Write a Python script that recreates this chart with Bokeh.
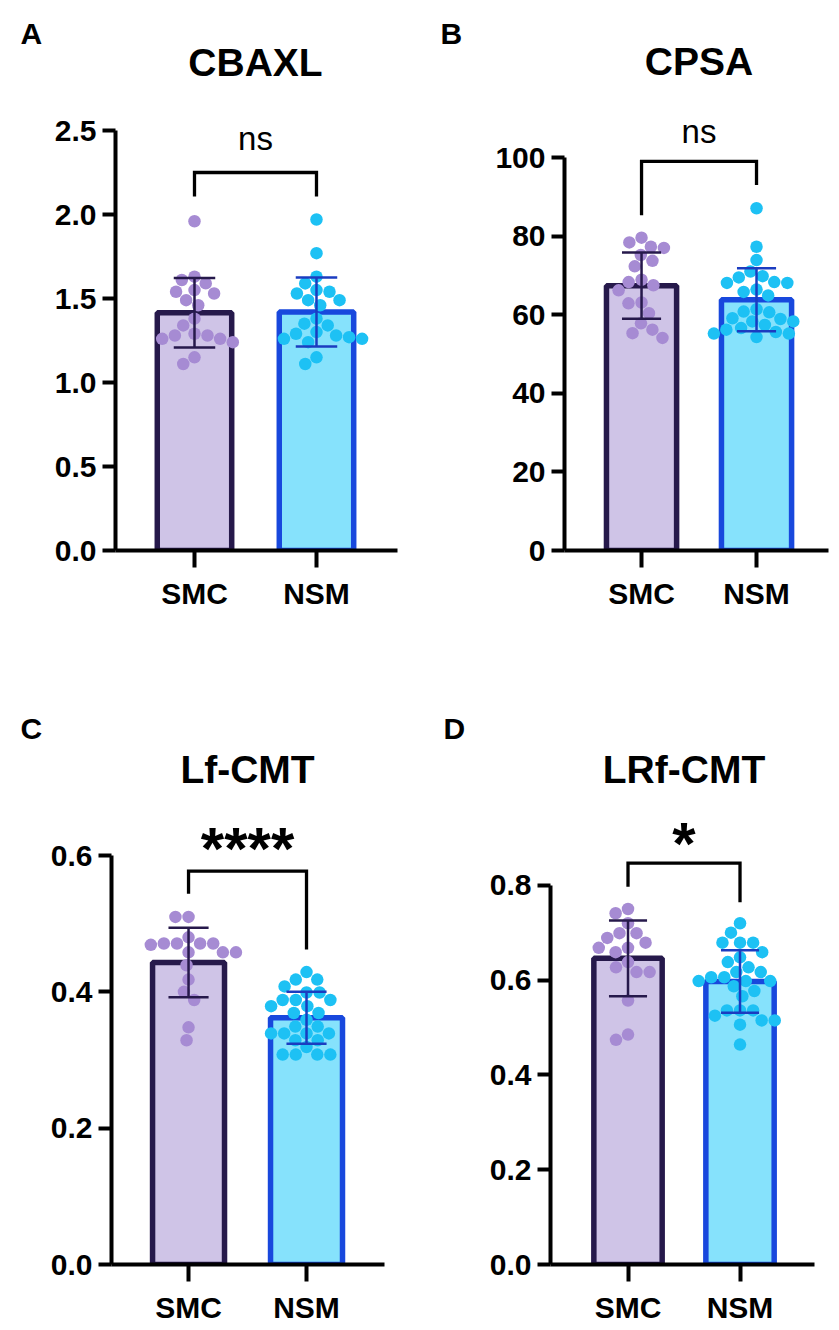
import math
from bokeh.plotting import figure
from bokeh.models import Range1d, FixedTicker, Label, PrintfTickFormatter, Title
from bokeh.layouts import row, column
from bokeh.embed import file_html
from bokeh.resources import INLINE

# ---------------- data ----------------
groups = ["SMC", "NSM"]
titles = ["CBAXL", "CPSA", "Lf-CMT", "LRf-CMT"]
panel_letters = ["A", "B", "C", "D"]
significance = ["ns", "ns", "****", "*"]

cbaxl_smc = [1.96, 1.63, 1.61, 1.59, 1.55, 1.54, 1.53, 1.49, 1.46, 1.38, 1.34,
             1.29, 1.28, 1.28, 1.26, 1.26, 1.24, 1.15, 1.11]
cbaxl_nsm = [1.97, 1.77, 1.63, 1.59, 1.55, 1.54, 1.53, 1.49, 1.49, 1.46, 1.38,
             1.35, 1.34, 1.30, 1.29, 1.27, 1.28, 1.26, 1.26, 1.24, 1.15, 1.11]
cpsa_smc = [79.6, 78.4, 77.0, 77.3, 75.2, 73.7, 72.3, 68.3, 68.9, 67.5, 66.2,
            62.9, 63.1, 60.4, 57.8, 55.3, 56.2, 54.1]
cpsa_nsm = [87.1, 77.3, 73.9, 71.0, 69.5, 69.8, 68.1, 68.3, 68.1, 66.4, 65.8,
            64.9, 61.4, 60.8, 60.6, 59.1, 58.9, 58.3, 57.4, 58.3, 56.2, 56.6,
            55.2, 54.3, 55.2, 55.6]
lfcmt_smc = [0.510, 0.510, 0.480, 0.471, 0.471, 0.471, 0.471, 0.469, 0.458,
             0.458, 0.458, 0.439, 0.418, 0.400, 0.388, 0.348, 0.329]
lfcmt_nsm = [0.429, 0.418, 0.418, 0.408, 0.399, 0.399, 0.388, 0.388, 0.388,
             0.379, 0.379, 0.369, 0.369, 0.359, 0.349, 0.349, 0.339, 0.339,
             0.339, 0.339, 0.329, 0.329, 0.319, 0.308, 0.308, 0.308, 0.308]
lrfcmt_smc = [0.750, 0.741, 0.720, 0.699, 0.699, 0.679, 0.689, 0.668, 0.668,
              0.659, 0.638, 0.627, 0.617, 0.617, 0.557, 0.485, 0.474]
lrfcmt_nsm = [0.720, 0.700, 0.679, 0.679, 0.679, 0.659, 0.648, 0.638, 0.627,
              0.617, 0.617, 0.606, 0.606, 0.598, 0.598, 0.598, 0.587, 0.577,
              0.566, 0.536, 0.536, 0.536, 0.525, 0.515, 0.515, 0.506, 0.464]

cbaxl_mean = [1.415, 1.420]
cbaxl_sd = [0.207, 0.205]
cpsa_mean = [67.4, 63.8]
cpsa_sd = [8.4, 8.0]
lfcmt_mean = [0.443, 0.362]
lfcmt_sd = [0.051, 0.038]
lrfcmt_mean = [0.646, 0.597]
lrfcmt_sd = [0.080, 0.066]

cbaxl_ticks = [0.0, 0.5, 1.0, 1.5, 2.0, 2.5]
cpsa_ticks = [0, 20, 40, 60, 80, 100]
lfcmt_ticks = [0.0, 0.2, 0.4, 0.6]
lrfcmt_ticks = [0.0, 0.2, 0.4, 0.6, 0.8]
tick_formats = ["%.1f", "%d", "%.1f", "%.1f"]

points = [(cbaxl_smc, cbaxl_nsm), (cpsa_smc, cpsa_nsm),
          (lfcmt_smc, lfcmt_nsm), (lrfcmt_smc, lrfcmt_nsm)]
means = [cbaxl_mean, cpsa_mean, lfcmt_mean, lrfcmt_mean]
sds = [cbaxl_sd, cpsa_sd, lfcmt_sd, lrfcmt_sd]
ticks = [cbaxl_ticks, cpsa_ticks, lfcmt_ticks, lrfcmt_ticks]

# ---------------- layout / style ----------------
FONT = "Liberation Sans"
BAR_FILL = ["#CFC4E7", "#86E2FC"]
BAR_LINE = ["#26194B", "#1848DD"]
DOT = ["#A68BD3", "#1DC1F4"]
ERR = ["#26194B", "#1B3CC0"]

geo = [
    dict(w=430, h=680, l=115, r=33, t=46, b=130, x=(0.3525, 2.664), ytop=3.0),
    dict(w=408, h=680, l=134, r=10, t=46, b=121, x=(0.330, 2.626), ytop=128.25),
    dict(w=430, h=648, l=111, r=46, t=70, b=64, x=(0.347, 2.661), ytop=0.7541),
    dict(w=408, h=648, l=120, r=24, t=70, b=64, x=(0.308, 2.665), ytop=1.0844),
]
ann = [
    dict(title=2.907, sig=2.453, sig_size="33px", sig_style="normal", loff=-95, lstand=-7),
    dict(title=124.4, sig=106.5, sig_size="33px", sig_style="normal", loff=-124, lstand=-7),
    dict(title=0.726, sig=0.610, sig_size="60px", sig_style="bold", loff=-91, lstand=11),
    dict(title=1.045, sig=0.888, sig_size="60px", sig_style="bold", loff=-107, lstand=11),
]
brackets = [(2.25, 2.107, 2.107), (99.0, 85.3, 93.0), (0.577, 0.544, 0.462), (0.847, 0.797, 0.764)]

BAR_W = 0.61
CAP_W = 0.34
DOT_D = 12.5


def swarm(vals, ppx, ppy, d):
    ys = [v * ppy for v in vals]
    order = sorted(range(len(vals)), key=lambda i: -ys[i])
    placed = []
    xs = [0.0] * len(vals)
    for i in order:
        y = ys[i]
        cands = [0.0]
        for (px, py) in placed:
            dy = abs(py - y)
            if dy < d:
                dx = math.sqrt(d * d - dy * dy)
                cands += [px - dx, px + dx]
        cands.sort(key=lambda c: (abs(c), c))
        for c in cands:
            if all((c - px) ** 2 + (y - py) ** 2 >= d * d - 1e-6 for px, py in placed):
                xs[i] = c
                break
        placed.append((xs[i], y))
    return [x / ppx for x in xs]


figs = []
for k in range(4):
    g = geo[k]
    fw = g["w"] - g["l"] - g["r"]
    fh = g["h"] - g["t"] - g["b"]
    p = figure(width=g["w"], height=g["h"], x_range=Range1d(*g["x"]),
               y_range=Range1d(0, g["ytop"]), output_backend="svg",
               toolbar_location=None, title=None,
               min_border_left=g["l"], min_border_right=g["r"],
               min_border_top=g["t"], min_border_bottom=g["b"])
    p.outline_line_color = None
    p.xgrid.visible = False
    p.ygrid.visible = False
    p.background_fill_color = "white"
    p.border_fill_color = "white"

    ppx = fw / (g["x"][1] - g["x"][0])
    ppy = fh / g["ytop"]
    xpos = [1, 2]

    p.vbar(x=xpos, top=means[k], width=BAR_W, fill_color=BAR_FILL,
           line_color=BAR_LINE, line_width=5.5)

    for j in range(2):
        offs = swarm(points[k][j], ppx, ppy, DOT_D + 0.6)
        p.scatter(x=[xpos[j] + o for o in offs], y=points[k][j], size=DOT_D,
                  fill_color=DOT[j], line_color=None, marker="circle")

    for j in range(2):
        lo = means[k][j] - sds[k][j]
        hi = means[k][j] + sds[k][j]
        p.segment(x0=[xpos[j]], y0=[lo], x1=[xpos[j]], y1=[hi], line_color=ERR[j], line_width=2.5)
        p.segment(x0=[xpos[j] - CAP_W / 2] * 2, y0=[lo, hi], x1=[xpos[j] + CAP_W / 2] * 2,
                  y1=[lo, hi], line_color=ERR[j], line_width=2.5)

    top, le, re_ = brackets[k]
    p.line(x=[xpos[0], xpos[0], xpos[1], xpos[1]], y=[le, top, top, re_],
           line_color="black", line_width=3.3, line_join="miter")

    p.xaxis.ticker = FixedTicker(ticks=xpos)
    p.xaxis.major_label_overrides = {1: groups[0], 2: groups[1]}
    p.yaxis.ticker = FixedTicker(ticks=ticks[k])
    p.yaxis.formatter = PrintfTickFormatter(format=tick_formats[k])
    p.yaxis.bounds = (ticks[k][0], ticks[k][-1])
    for ax in (p.xaxis, p.yaxis):
        ax.axis_line_width = 4
        ax.axis_line_color = "black"
        ax.major_tick_line_width = 4
        ax.major_tick_line_color = "black"
        ax.major_tick_in = 0
        ax.minor_tick_line_color = None
        ax.major_label_text_font = FONT
        ax.major_label_text_font_style = "bold"
        ax.major_label_text_color = "black"
        ax.major_label_text_font_size = "30px"
    p.yaxis.major_tick_out = 13
    p.yaxis.major_label_standoff = 6
    p.xaxis.major_tick_out = 17
    p.xaxis.major_label_standoff = 9

    a = ann[k]
    p.add_layout(Label(x=1.5, y=a["title"], text=titles[k], text_font=FONT,
                       text_font_size="39px", text_font_style="bold",
                       text_align="center", text_baseline="alphabetic", text_color="black"))
    p.add_layout(Label(x=1.5, y=a["sig"], text=significance[k], text_font=FONT,
                       text_font_size=a["sig_size"], text_font_style=a["sig_style"],
                       text_align="center", text_baseline="alphabetic", text_color="black"))
    p.add_layout(Title(text=panel_letters[k], align="left", offset=a["loff"],
                       standoff=a["lstand"], text_font=FONT, text_font_size="30px",
                       text_font_style="bold", text_color="black"), "above")
    figs.append(p)

layout = column(row(figs[0], figs[1]), row(figs[2], figs[3]))
open("out.html", "w").write(file_html(layout, INLINE))
